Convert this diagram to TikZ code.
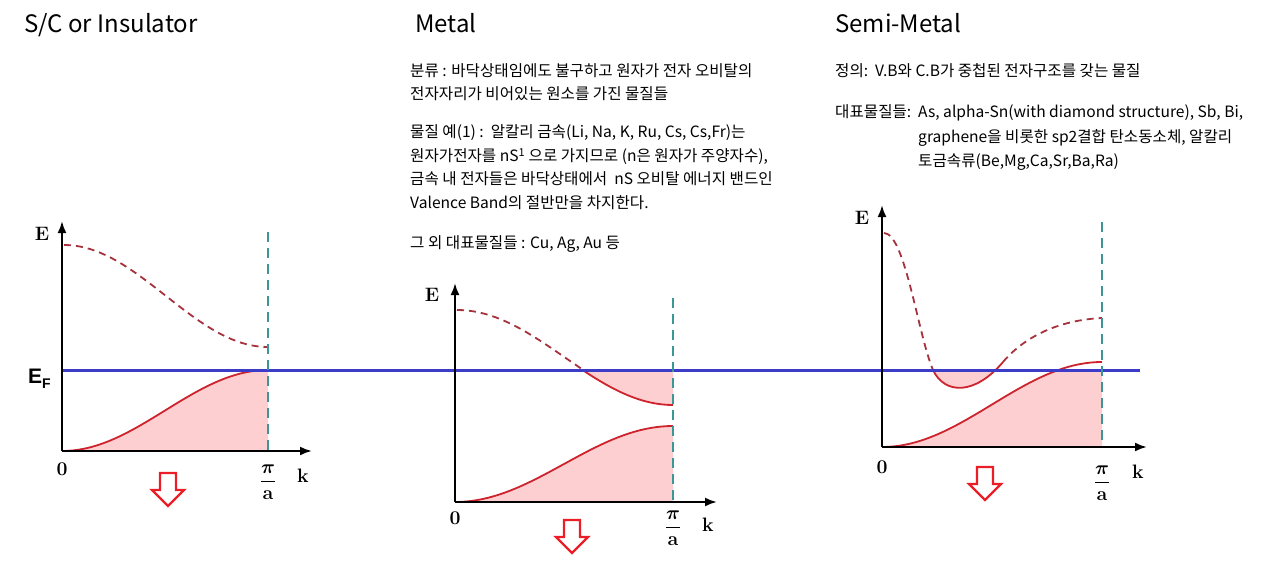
\documentclass[tikz,border=0pt]{standalone}
\usepackage[no-math]{fontspec}
\usepackage{amsmath}
\setmainfont{Noto Sans CJK KR}
\newfontfamily\efont{Liberation Sans}
\usetikzlibrary{arrows.meta}

\definecolor{bandred}{RGB}{205,35,45}
\definecolor{emptyred}{RGB}{165,50,60}
\definecolor{fillpink}{RGB}{253,207,208}
\definecolor{zoneteal}{RGB}{60,150,150}
\definecolor{fermiblue}{RGB}{60,60,200}
\definecolor{arrowred}{RGB}{235,30,40}

\newcommand{\axlbl}[1]{\scalebox{1.35}{$\displaystyle #1$}}

\begin{document}
\begin{tikzpicture}[x=1pt, y=-1pt,
        band/.style={draw=bandred, line width=1.8pt},
        emptyband/.style={draw=emptyred, line width=1.8pt, dash pattern=on 7pt off 5pt},
        zone/.style={draw=zoneteal, line width=2.2pt, dash pattern=on 10pt off 6pt},
        axisline/.style={-{Latex[length=12pt,width=9pt]}, line width=2.2pt},
        fermi/.style={draw=fermiblue, line width=3pt},
        filled/.style={fill=fillpink},
        lbl/.style={font=\fontsize{14.4}{14.4}\selectfont, inner sep=0pt},
        heading/.style={font=\fontsize{24}{24}\selectfont, anchor=base west, inner sep=0pt},
        note/.style={font=\fontsize{15.6}{15.6}\selectfont, anchor=base west, inner sep=0pt},
        downarrow/.pic={\draw[draw=arrowred, line width=2.4pt] (-8,0) -- (8,0) -- (8,17) -- (16,17) -- (0,33) -- (-16,17) -- (-8,17) -- cycle;}
    ]
    \useasboundingbox (0,0) rectangle (1276,564);

    % titles
    \node[heading] (sctitle) at (24,33) {S/C or Insulator};
    \node[heading] (metaltitle) at (415,33) {Metal};
    \node[heading] (semititle) at (835,33) {Semi-Metal};

    % metal notes
    \node[note] (metal1) at (410,77) {분류 : 바닥상태임에도 불구하고 원자가 전자 오비탈의};
    \node[note] (metal2) at (410,100) {전자자리가 비어있는 원소를 가진 물질들};
    \node[note] (metal3) at (410,138) {물질 예(1) :\ \ 알칼리 금속(Li, Na, K, Ru, Cs, Cs,Fr)는};
    \node[note] (metal4) at (410,162) {원자가전자를 nS\textsuperscript{1} 으로 가지므로 (n은 원자가 주양자수),};
    \node[note] (metal5) at (410,185) {금속 내 전자들은 바닥상태에서\ \ nS 오비탈 에너지 밴드인};
    \node[note] (metal6) at (410,208) {Valence Band의 절반만을 차지한다.};
    \node[note] (metal7) at (410,248) {그 외 대표물질들 : Cu, Ag, Au 등};

    % semi-metal notes
    \node[note] (semi1) at (835,77) {정의:\ \ V.B와 C.B가 중첩된 전자구조를 갖는 물질};
    \node[note] (semi2) at (835,118) {대표물질들:};
    \node[note] (semi3) at (918,118) {As, alpha-Sn(with diamond structure), Sb, Bi,};
    \node[note] (semi4) at (918,143) {graphene을 비롯한 sp2결합 탄소동소체, 알칼리};
    \node[note] (semi5) at (918,167) {토금속류(Be,Mg,Ca,Sr,Ba,Ra)};

    % S/C or insulator
    \fill[filled] (62,451) -- plot[domain=0:180, samples=40] ({62+\x/180*206}, {451-81*(1-cos(\x))/2}) -- (268,451) -- cycle;
    \draw[band] plot[domain=0:180, samples=40] ({62+\x/180*206}, {451-81*(1-cos(\x))/2});
    \draw[emptyband] plot[domain=0:180, samples=40] ({64+\x/180*204}, {245+102*(1-cos(\x))/2});

    % metal
    \fill[filled] (455,502) -- plot[domain=0:180, samples=40] ({455+\x/180*218}, {502-76*(1-cos(\x))/2}) -- (673,502) -- cycle;
    \draw[band] plot[domain=0:180, samples=40] ({455+\x/180*218}, {502-76*(1-cos(\x))/2});
    \begin{scope}
        \clip (455,370) rectangle (680,502);
        \fill[filled] plot[domain=0:180, samples=40] ({455+\x/180*218}, {310+95*(1-cos(\x))/2}) -- (673,370) -- (455,370) -- cycle;
        \draw[band] plot[domain=0:180, samples=40] ({455+\x/180*218}, {310+95*(1-cos(\x))/2});
    \end{scope}
    \begin{scope}
        \clip (455,250) rectangle (680,370);
        \draw[emptyband] plot[domain=0:180, samples=40] ({457+\x/180*216}, {310+95*(1-cos(\x))/2});
    \end{scope}

    % semi-metal
    \begin{scope}
        \clip (882,370) rectangle (1102,447);
        \fill[filled] (882,447) -- plot[domain=0:180, samples=40] ({882+\x/180*220}, {447-85*(1-cos(\x))/2}) -- (1102,447) -- cycle;
        \fill[filled] (933,370) .. controls (945,395) and (975,395) .. (1003,362) -- cycle;
    \end{scope}
    \draw[band] plot[domain=0:180, samples=40] ({882+\x/180*220}, {447-85*(1-cos(\x))/2});
    \draw[emptyband] (884,233) .. controls (905,233) and (918,335) .. (933,370);
    \draw[band] (933,370) .. controls (945,395) and (975,395) .. (1003,362);
    \draw[emptyband] (1003,362) .. controls (1025,336) and (1060,320) .. (1102,318);

    % fermi level
    \draw[fermi] (62,370) -- (1140,370);
    \node[inner sep=0pt, anchor=base west] (ef) at (28,383)
        {\efont\bfseries\fontsize{21}{21}\selectfont E\raisebox{-5pt}{\fontsize{14}{14}\selectfont F}};

    % zone boundaries
    \draw[zone] (268,232) -- (268,451);
    \draw[zone] (673,298) -- (673,502);
    \draw[zone] (1102,222) -- (1102,447);

    % axes
    \draw[axisline] (62,451) -- (62,221);
    \draw[axisline] (62,451) -- (312,451);
    \draw[axisline] (455,502) -- (455,283);
    \draw[axisline] (455,502) -- (717,502);
    \draw[axisline] (882,447) -- (882,205);
    \draw[axisline] (882,447) -- (1147,447);

    % axis labels
    \node[lbl] (sce) at (42,234) {\axlbl{\mathbf{E}}};
    \node[lbl] (sco) at (62,469) {\axlbl{\mathbf{0}}};
    \node[lbl] (scpi) at (268,482) {\axlbl{\frac{\boldsymbol{\pi}}{\mathbf{a}}}};
    \node[lbl] (sck) at (303,476) {\axlbl{\mathbf{k}}};
    \node[lbl] (metale) at (432,295) {\axlbl{\mathbf{E}}};
    \node[lbl] (metalo) at (455,518) {\axlbl{\mathbf{0}}};
    \node[lbl] (metalpi) at (673,528) {\axlbl{\frac{\boldsymbol{\pi}}{\mathbf{a}}}};
    \node[lbl] (metalk) at (708,525) {\axlbl{\mathbf{k}}};
    \node[lbl] (semie) at (862,218) {\axlbl{\mathbf{E}}};
    \node[lbl] (semio) at (882,467) {\axlbl{\mathbf{0}}};
    \node[lbl] (semipi) at (1102,483) {\axlbl{\frac{\boldsymbol{\pi}}{\mathbf{a}}}};
    \node[lbl] (semik) at (1138,472) {\axlbl{\mathbf{k}}};

    % arrows
    \pic (scarrow) at (168,473) {downarrow};
    \pic (metalarrow) at (572,520) {downarrow};
    \pic (semiarrow) at (985,467) {downarrow};
\end{tikzpicture}
\end{document}
